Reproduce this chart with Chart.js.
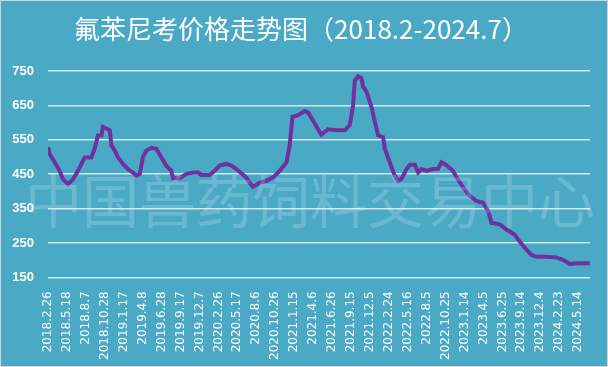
<!DOCTYPE html>
<html>
<head>
<meta charset="utf-8">
<script src="https://cdn.jsdelivr.net/npm/chart.js@4"></script>
<style>
    html, body { margin: 0; padding: 0; background: #ffffff; }
    #wrap {
        width: 608px;
        height: 367px;
        box-sizing: border-box;
        border: 1px solid #d4d4d4;
        background: #4aaac6;
    }
</style>
</head>
<body>
<div id="wrap"><canvas id="priceChart"></canvas></div>
<script>
// Tick labels on the x axis (one every 80 days)
const tickLabels = [
    '2018.2.26', '2018.5.18', '2018.8.7', '2018.10.28', '2019.1.17', '2019.4.8',
    '2019.6.28', '2019.9.17', '2019.12.7', '2020.2.26', '2020.5.17', '2020.8.6',
    '2020.10.26', '2021.1.15', '2021.4.6', '2021.6.26', '2021.9.15', '2021.12.5',
    '2022.2.24', '2022.5.16', '2022.8.5', '2022.10.25', '2023.1.14', '2023.4.5',
    '2023.6.25', '2023.9.14', '2023.12.4', '2024.2.23', '2024.5.14'
];
const tickStep = 80;

// Days since 2018.2.26 and price at that day
const days = [
    0, 7, 28, 49, 63, 85, 106, 127, 141, 155, 183, 197, 211, 226, 232, 247, 261, 268,
    282, 296, 317, 338, 359, 374, 388, 401, 416, 437, 458, 479, 500, 521, 528, 557,
    585, 613, 634, 648, 683, 704, 725, 754, 775, 796, 817, 838, 852, 866, 895, 923,
    951, 979, 1008, 1021, 1033, 1057, 1085, 1099, 1127, 1155, 1183, 1219, 1254, 1275,
    1289, 1296, 1310, 1324, 1331, 1346, 1367, 1381, 1395, 1416, 1423, 1444, 1465, 1479,
    1493, 1515, 1529, 1550, 1564, 1578, 1599, 1627, 1648, 1662, 1676, 1711, 1726, 1754,
    1782, 1810, 1838, 1860, 1874, 1909, 1937, 1972, 1993, 2022, 2043, 2064, 2099, 2148,
    2176, 2205, 2233, 2289
];
const prices = [
    529, 509, 485, 460, 436, 421, 436, 460, 480, 499, 499, 524, 563, 563, 588, 583, 578, 534,
    519, 499, 480, 465, 455, 446, 451, 500, 519, 527, 524, 499, 475, 460, 438, 438,
    451, 455, 455, 448, 448, 460, 475, 480, 475, 465, 453, 440, 425, 413, 426, 431,
    441, 460, 485, 534, 617, 622, 634, 630, 598, 565, 581, 578, 578, 593,
    651, 722, 735, 730, 705, 690, 645, 602, 563, 558, 524, 485, 446, 431,
    436, 465, 478, 478, 455, 465, 460, 465, 465, 485, 480, 460, 441, 411,
    387, 372, 367, 343, 308, 304, 289, 274, 254, 230, 215, 210, 210, 208,
    201, 189, 191, 191
];

const chartTitle = '氟苯尼考价格走势图（2018.2-2024.7）';
const watermark = '中国兽药饲料交易中心';

// Watermark text drawn over the plot
const watermarkPlugin = {
    id: 'watermark',
    afterDatasetsDraw(chart) {
        const ctx = chart.ctx;
        ctx.save();
        ctx.font = '57px "Noto Sans CJK SC"';
        ctx.fillStyle = 'rgba(255, 255, 255, 0.18)';
        ctx.textAlign = 'center';
        ctx.textBaseline = 'middle';
        ctx.fillText(watermark, 309, 200);
        ctx.restore();
    }
};

const ctx = document.getElementById('priceChart').getContext('2d');
new Chart(ctx, {
    type: 'line',
    data: {
        datasets: [{
            data: days.map((d, i) => ({ x: d, y: prices[i] })),
            borderColor: '#7030a0',
            borderWidth: 4,
            pointRadius: 0,
            tension: 0,
        }],
    },
    options: {
        responsive: true,
        maintainAspectRatio: false,
        animation: false,
        layout: { padding: { left: 11, right: 17, bottom: 0 } },
        plugins: {
            legend: { display: false },
            tooltip: { enabled: false },
            title: {
                display: true,
                text: chartTitle,
                color: '#ffffff',
                font: { family: '"Noto Sans CJK SC"', size: 26, weight: 'normal' },
                padding: { top: 13, bottom: 26 },
            },
        },
        scales: {
            x: {
                type: 'linear',
                min: 0,
                max: 2290,
                afterBuildTicks: (scale) => {
                    scale.ticks = tickLabels.map((_, i) => ({ value: i * tickStep }));
                },
                ticks: {
                    autoSkip: false,
                    minRotation: 90,
                    maxRotation: 90,
                    color: '#ffffff',
                    padding: 6,
                    font: { family: 'DejaVu Sans', size: 12 },
                    callback: (value, index) => tickLabels[index],
                },
                grid: { display: false },
                border: { display: false },
            },
            y: {
                min: 150,
                max: 750,
                afterFit: (scale) => { scale.width = 36; },
                ticks: {
                    stepSize: 100,
                    color: '#ffffff',
                    padding: 14,
                    font: { family: 'Liberation Sans', size: 13, weight: 'bold' },
                },
                grid: { color: 'rgba(235, 245, 248, 0.85)', lineWidth: 1.5, drawTicks: false },
                border: { display: false },
            },
        },
    },
    plugins: [watermarkPlugin],
});
</script>
</body>
</html>
